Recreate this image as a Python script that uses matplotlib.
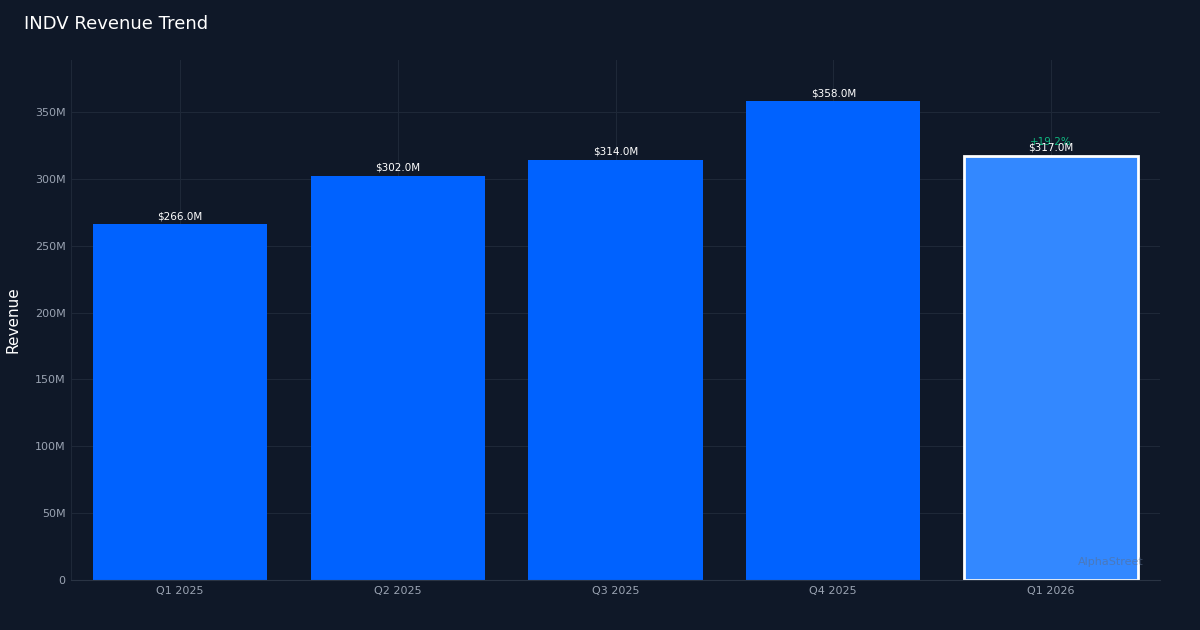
import matplotlib
matplotlib.use("Agg")
import matplotlib.pyplot as plt
from matplotlib.ticker import FuncFormatter

categories = ["Q1 2025", "Q2 2025", "Q3 2025", "Q4 2025", "Q1 2026"]
revenue_m = [266.0, 302.0, 314.0, 358.0, 317.0]
growth_label = "+19.2%"

bg = "#0f1828"
fig = plt.figure(figsize=(12, 6.3), dpi=100, facecolor=bg)
ax = fig.add_axes([71/1200, 50/630, 1089/1200, 520/630], facecolor=bg)
x = list(range(len(categories)))
colors = ["#0062ff"] * 4 + ["#3388ff"]
bars = ax.bar(x, revenue_m, width=0.8, color=colors, zorder=2)
bars[-1].set_edgecolor("white")
bars[-1].set_linewidth(2)

for xi, v in zip(x, revenue_m):
    ax.text(xi, v + 2.5, f"${v:.1f}M", ha="center", va="bottom", color="white", fontsize=7.5, zorder=3)
ax.text(x[-1], revenue_m[-1] + 7, growth_label, ha="center", va="bottom", color="#10b981", fontsize=7.5, zorder=2.5)

ax.set_xlim(-0.5, 4.5)
ax.set_ylim(0, 389)
ax.set_yticks([0, 50, 100, 150, 200, 250, 300, 350])
ax.yaxis.set_major_formatter(FuncFormatter(lambda v, p: "0" if v == 0 else f"{int(v)}M"))
ax.set_xticks(x)
ax.set_xticklabels(categories)
ax.grid(True, color="#1e2838", linewidth=0.8, zorder=0)
ax.tick_params(colors="#9aa3b2", labelsize=8, length=0, pad=4)
for s in ax.spines.values():
    s.set_visible(False)
ax.spines["bottom"].set_visible(True)
ax.spines["bottom"].set_color("#2a3444")
ax.spines["left"].set_visible(True)
ax.spines["left"].set_color("#1e2838")
fig.text(13/1200, 1 - 320/630, "Revenue", color="white", fontsize=11, rotation=90, ha="center", va="center")
fig.text(24/1200, 1 - 24/630, "INDV Revenue Trend", color="white", fontsize=13, va="center", ha="left")
ax.text(0.985, 0.035, "AlphaStreet", transform=ax.transAxes, ha="right", va="center",
        color="#5a6f90", alpha=0.6, fontsize=8, zorder=4)
fig.savefig("out.png", dpi=100, facecolor=bg)
